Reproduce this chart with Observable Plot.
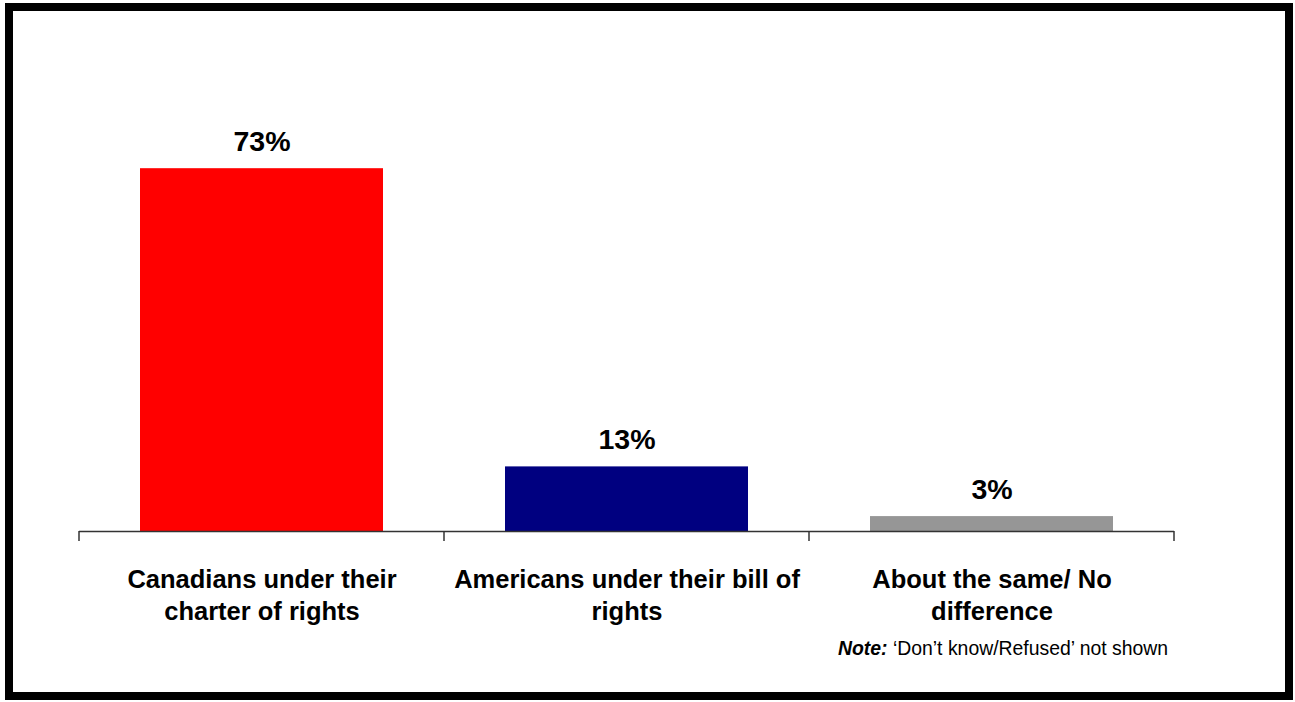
<!DOCTYPE html>
<html>
<head>
<meta charset="utf-8">
<script src="https://cdn.jsdelivr.net/npm/d3@7"></script>
<script src="https://cdn.jsdelivr.net/npm/@observablehq/plot@0.6"></script>
<style>
  html, body { margin: 0; padding: 0; background: #fff; overflow: hidden; }
  #wrap { position: relative; width: 1295px; height: 702px; font-family: Arial, "Liberation Sans", sans-serif; }
  #chart { position: absolute; left: 0; top: 0; }
  #frame { position: absolute; left: 5px; top: 3px; width: 1288px; height: 697px; box-sizing: border-box; border: 8px solid #000; pointer-events: none; }
  #note { position: absolute; left: 838px; top: 637px; font-size: 19.4px; color: #000; white-space: nowrap; }
</style>
</head>
<body>
<div id="wrap">
  <div id="chart"></div>
  <div id="frame"></div>
  <div id="note"><b><i>Note:</i></b> ‘Don’t know/Refused’ not shown</div>
</div>
<script>
const categories = [
  "Canadians under their\ncharter of rights",
  "Americans under their bill of\nrights",
  "About the same/ No\ndifference"
];
const values = [73, 13, 3];
const valueLabels = ["73%", "13%", "3%"];

const rows = categories.map((c, i) => ({category: c, value: values[i], label: valueLabels[i]}));

const boundaryTicks = (index, scales, vals, dims) => {
  const g = d3.create("svg:g");
  const x0 = dims.marginLeft, x1 = dims.width - dims.marginRight;
  const y0 = dims.height - dims.marginBottom;
  const n = categories.length;
  for (let i = 0; i <= n; i++) {
    const x = x0 + (x1 - x0) * i / n;
    g.append("line")
      .attr("x1", x).attr("x2", x)
      .attr("y1", y0).attr("y2", y0 + 10)
      .attr("stroke", "#333").attr("stroke-width", 1.5);
  }
  return g.node();
};

const plot = Plot.plot({
  width: 1295,
  height: 702,
  marginLeft: 79,
  marginRight: 121,
  marginTop: 34,
  marginBottom: 171,
  style: {fontFamily: 'Arial, "Liberation Sans", sans-serif', background: "transparent", overflow: "visible"},
  x: {domain: categories, paddingInner: 0.334, paddingOuter: 0.167, axis: null},
  y: {domain: [0, 100], axis: null},
  color: {domain: categories, range: ["#FF0000", "#000080", "#969696"]},
  marks: [
    Plot.barY(rows, {x: "category", y: "value", fill: "category"}),
    Plot.ruleY([0], {stroke: "#333", strokeWidth: 1.5}),
    boundaryTicks,
    Plot.text(rows, {x: "category", y: "value", text: "label", dy: -18, lineAnchor: "bottom",
      fontSize: 28.5, fontWeight: "bold", fill: "#000"}),
    Plot.text(rows, {x: "category", text: "category", frameAnchor: "bottom", lineAnchor: "top",
      dy: 34, fontSize: 25.5, fontWeight: "bold", lineHeight: 1.25, fill: "#000"})
  ]
});
document.getElementById("chart").appendChild(plot);
</script>
</body>
</html>
